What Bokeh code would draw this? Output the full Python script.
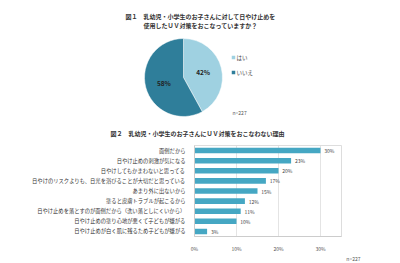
import math
from bokeh.plotting import figure
from bokeh.layouts import column
from bokeh.models import Range1d, FactorRange, ColumnDataSource, Title, FixedTicker, CustomJSTickFormatter
from bokeh.core.properties import value
from bokeh.embed import file_html
from bokeh.resources import INLINE

FONT = "Noto Sans CJK JP"

# ---- data ----
pie_labels = ["はい", "いいえ"]
pie_values = [42, 58]
pie_colors = ["#9fd1e1", "#2f7e9a"]
pie_n = "n=227"

title1_a = "図１　乳幼児・小学生のお子さんに対して日やけ止めを"
title1_b = "使用したＵＶ対策をおこなっていますか？"
title2 = "図２　乳幼児・小学生のお子さんにＵＶ対策をおこなわない理由"

reasons = [
    "面倒だから",
    "日やけ止めの刺激が気になる",
    "日やけしてもかまわないと思ってる",
    "日やけのリスクよりも、日光を浴びることが大切だと思っている",
    "あまり外に出ないから",
    "塗ると皮膚トラブルが起こるから",
    "日やけ止めを落とすのが面倒だから（洗い落としにくいから）",
    "日やけ止めの塗り心地が悪くて子どもが嫌がる",
    "日やけ止めが白く肌に残るため子どもが嫌がる",
]
reason_values = [30, 23, 20, 17, 15, 12, 11, 10, 3]
bar_ticks = [0, 10, 20, 30]
bar_n = "n=227"
BAR_COLOR = "#45a7c3"

# ---- pie figure ----
PH = 140
p1 = figure(width=400, height=PH, x_range=Range1d(0, 400), y_range=Range1d(0, PH),
            output_backend="svg", toolbar_location=None, min_border=0)
p1.frame_align = False
p1.axis.visible = False
p1.grid.visible = False
p1.outline_line_color = None

cx, cy, R = 183, PH - 77, 39
total = sum(pie_values)
starts, ends, lx, ly, ltxt = [], [], [], [], []
cum = 0
for v in pie_values:
    a0 = math.pi / 2 - 2 * math.pi * cum / total
    cum += v
    a1 = math.pi / 2 - 2 * math.pi * cum / total
    starts.append(a0)
    ends.append(a1)
    mid = (a0 + a1) / 2
    lx.append(cx + 0.52 * R * math.cos(mid))
    ly.append(cy + 0.52 * R * math.sin(mid))
    ltxt.append(f"{v}%")

src = ColumnDataSource(dict(start=starts, end=ends, color=pie_colors))
p1.wedge(x=cx, y=cy, radius=R, start_angle="start", end_angle="end", direction="clock",
         fill_color="color", line_color="white", line_width=0.5, source=src)
p1.text(x=lx, y=ly, text=ltxt, text_font=value(FONT), text_font_size="6.5px",
        text_font_style="bold", text_align="center", text_baseline="middle", text_color="#222222")

# legend
leg_y = [PH - 57, PH - 72]
p1.scatter(x=[233] * 2, y=leg_y, marker="square", size=3.5, fill_color=pie_colors, line_color=None)
p1.text(x=[236] * 2, y=leg_y, text=pie_labels, text_font=value(FONT), text_font_size="5.5px",
        text_baseline="middle", text_color="#444444")
p1.text(x=[232], y=[PH - 112], text=[pie_n], text_font=value(FONT), text_font_size="5px",
        text_baseline="middle", text_color="#555555")

# titles
p1.text(x=[125], y=[PH - 16], text=[title1_a], text_font=value(FONT), text_font_size="6px",
        text_font_style="bold", text_baseline="middle", text_color="#333333")
p1.text(x=[143], y=[PH - 25], text=[title1_b], text_font=value(FONT), text_font_size="6px",
        text_font_style="bold", text_baseline="middle", text_color="#333333")
p1.text(x=[110], y=[PH - 133], text=[title2], text_font=value(FONT), text_font_size="6px",
        text_font_style="bold", text_baseline="middle", text_color="#333333")

# ---- bar figure ----
BH = 263 - PH
p2 = figure(width=400, height=BH, y_range=FactorRange(*reversed(reasons)), x_range=Range1d(0, 35),
            output_backend="svg", toolbar_location=None,
            min_border_left=194, min_border_right=59, min_border_top=5, min_border_bottom=20)
p2.frame_align = False
p2.hbar(y=reasons, right=reason_values, left=0, height=0.55, fill_color=BAR_COLOR, line_color=None)
p2.text(x=[v + 0.9 for v in reason_values], y=reasons, text=[f"{v}%" for v in reason_values],
        text_font=value(FONT), text_font_size="5px", text_baseline="middle", text_color="#444444")

p2.ygrid.visible = False
p2.xgrid.grid_line_color = "#dddddd"
p2.xgrid.grid_line_width = 0.8
p2.outline_line_color = "#dddddd"
p2.xaxis.ticker = FixedTicker(ticks=bar_ticks)
p2.xaxis.formatter = CustomJSTickFormatter(code="return tick + '%';")
p2.xaxis.major_label_text_font = FONT
p2.xaxis.major_label_text_font_size = "5px"
p2.xaxis.major_label_text_color = "#555555"
p2.xaxis.axis_line_color = "#cccccc"
p2.xaxis.major_tick_line_color = None
p2.xaxis.minor_tick_line_color = None
p2.xaxis.major_label_standoff = 2
p2.yaxis.major_label_text_font = FONT
p2.yaxis.major_label_text_font_size = "5.3px"
p2.yaxis.major_label_text_color = "#333333"
p2.yaxis.axis_line_color = "#cccccc"
p2.yaxis.major_tick_line_color = None
p2.yaxis.minor_tick_line_color = None
p2.yaxis.major_label_standoff = 3

p2.add_layout(Title(text=bar_n, align="right", offset=-19, standoff=0, vertical_align="top",
                    text_font=FONT, text_font_size="5px", text_color="#555555",
                    text_font_style="normal"), "below")

layout = column(p1, p2, spacing=0)
open("out.html", "w").write(file_html(layout, INLINE))
